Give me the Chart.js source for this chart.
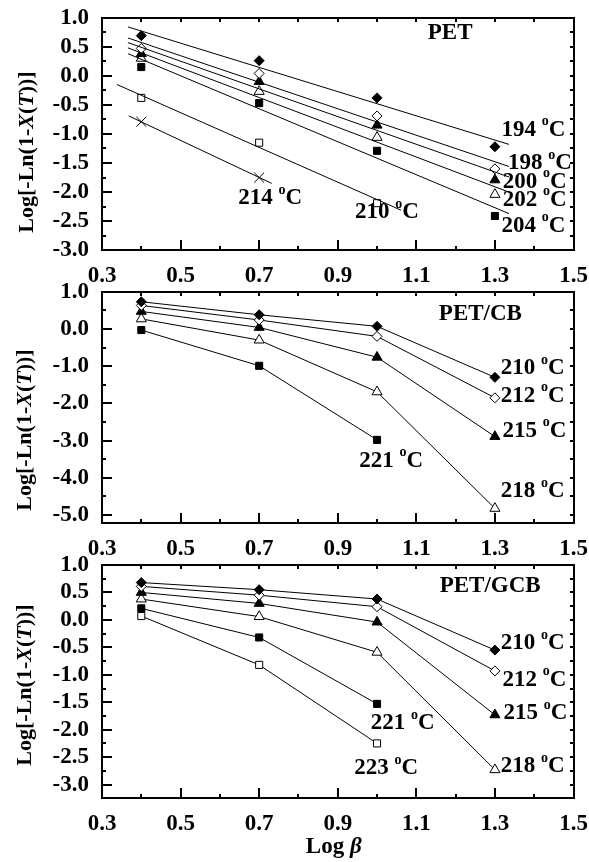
<!DOCTYPE html>
<html>
<head>
<meta charset="utf-8">
<script src="https://cdn.jsdelivr.net/npm/chart.js@4.4.1/dist/chart.umd.min.js"></script>
<style>
html, body { margin: 0; padding: 0; background: #fff; }
#wrap { position: relative; width: 589px; height: 862px; overflow: hidden; }
canvas { position: absolute; left: 0; }
.frame { position: absolute; left: 0; top: 0; width: 589px; height: 862px; pointer-events: none; z-index: 5; }
.frame div { position: absolute; background: #000; }
</style>
</head>
<body>
<div id="wrap">
  <canvas id="c1" width="589" height="292" style="top:0px"></canvas>
  <canvas id="c2" width="589" height="290" style="top:270px"></canvas>
  <canvas id="c3" width="589" height="322" style="top:540px"></canvas>
</div>
<script>
// Log(beta) values
const xBeta = [0.4, 0.7, 1.0, 1.3];

// --- PET ---
const pet194 = [0.69, 0.26, -0.38, -1.22];
const pet198 = [0.47, 0.04, -0.69, -1.60];
const pet200 = [0.38, -0.10, -0.85, -1.79];
const pet202 = [0.30, -0.27, -1.06, -2.04];
const pet204 = [0.15, -0.47, -1.29, -2.41];
const pet210 = [-0.38, -1.15, -2.19];
const pet214 = [-0.79, -1.75];
// fitted straight lines: 194,198,200,202,204,210,214
const petFitX0 = [0.366, 0.366, 0.366, 0.366, 0.366, 0.338, 0.368];
const petFitX1 = [1.336, 1.336, 1.336, 1.336, 1.336, 1.061, 0.732];
const petFitY0 = [0.84, 0.65, 0.57, 0.48, 0.38, -0.15, -0.69];
const petFitY1 = [-1.18, -1.56, -1.74, -2.00, -2.37, -2.31, -1.85];
const petLabels = ['194', '198', '200', '202', '204', '210', '214'];
const petLabelX = [1.317, 1.333, 1.32, 1.32, 1.317, 0.944, 0.647];
const petLabelY = [-0.93, -1.50, -1.82, -2.13, -2.58, -2.34, -2.11];

// --- PET/CB ---
const cb210 = [0.73, 0.38, 0.07, -1.30];
const cb212 = [0.63, 0.24, -0.20, -1.85];
const cb215 = [0.47, 0.04, -0.76, -2.89];
const cb218 = [0.27, -0.30, -1.69, -4.82];
const cb221 = [-0.03, -0.99, -2.98];
const cbLabels = ['210', '212', '215', '221', '218'];
const cbLabelX = [1.315, 1.315, 1.319, 0.955, 1.315];
const cbLabelY = [-1.05, -1.79, -2.73, -3.54, -4.35];

// --- PET/GCB ---
const gcb210 = [0.68, 0.55, 0.38, -0.55];
const gcb212 = [0.61, 0.45, 0.24, -0.93];
const gcb215 = [0.50, 0.30, -0.04, -1.73];
const gcb218 = [0.38, 0.06, -0.59, -2.73];
const gcb221 = [0.21, -0.32, -1.53];
const gcb223 = [0.07, -0.82, -2.25];
const gcbLabels = ['210', '212', '215', '221', '223', '218'];
const gcbLabelX = [1.315, 1.319, 1.322, 0.984, 0.942, 1.315];
const gcbLabelY = [-0.42, -1.09, -1.70, -1.88, -2.70, -2.67];

// tick values
const xTicks = [0.3, 0.5, 0.7, 0.9, 1.1, 1.3, 1.5];
const xMinor = [0.4, 0.6, 0.8, 1.0, 1.2, 1.4];
const yTicksA = [1.0, 0.5, 0.0, -0.5, -1.0, -1.5, -2.0, -2.5, -3.0];
const yMinorA = [0.75, 0.25, -0.25, -0.75, -1.25, -1.75, -2.25, -2.75];
const yTicksB = [1, 0, -1, -2, -3, -4, -5];
const yMinorB = [0.5, -0.5, -1.5, -2.5, -3.5, -4.5];
const yMinorC = [0.75, 0.25, -0.25, -0.75, -1.25, -1.75, -2.25, -2.75, -3.25];

const FONT = '"Liberation Serif", "Times New Roman", serif';

function pts(ys) {
    return ys.map((v, i) => ({ x: xBeta[i], y: v }));
}

function markers(ys, style, filled, radius, withLine) {
    return {
        data: pts(ys),
        showLine: withLine,
        borderColor: '#000',
        borderWidth: 1,
        pointStyle: style,
        pointRadius: radius,
        pointBorderWidth: 1,
        pointBackgroundColor: filled ? '#000' : '#fff',
        pointBorderColor: '#000',
        tension: 0
    };
}

function fitLine(i) {
    return {
        data: [{ x: petFitX0[i], y: petFitY0[i] }, { x: petFitX1[i], y: petFitY1[i] }],
        showLine: true,
        borderColor: '#000',
        borderWidth: 1,
        pointRadius: 0,
        tension: 0
    };
}

function drawTemp(ctx, num, px, py) {
    ctx.textAlign = 'left';
    ctx.textBaseline = 'middle';
    ctx.font = 'bold 23px ' + FONT;
    ctx.fillText(num + ' ', px, py);
    let w = ctx.measureText(num + ' ').width;
    ctx.font = 'bold 14px ' + FONT;
    ctx.fillText('o', px + w, py - 8);
    w += ctx.measureText('o').width;
    ctx.font = 'bold 23px ' + FONT;
    ctx.fillText('C', px + w, py);
}

function drawYTitle(ctx, cx, cy) {
    const parts = [['Log[-Ln(1-', false], ['X', true], ['(', false], ['T', true], ['))]', false]];
    const f = (it) => (it ? 'italic ' : '') + 'bold 22px ' + FONT;
    let total = 0;
    parts.forEach(p => { ctx.font = f(p[1]); total += ctx.measureText(p[0]).width; });
    ctx.save();
    ctx.translate(cx, cy);
    ctx.rotate(-Math.PI / 2);
    ctx.textAlign = 'left';
    ctx.textBaseline = 'middle';
    let x = -total / 2;
    parts.forEach(p => {
        ctx.font = f(p[1]);
        ctx.fillText(p[0], x, 0);
        x += ctx.measureText(p[0]).width;
    });
    ctx.restore();
}

// box and inward ticks as an overlay layer, positioned from the chart's scales
function frameOverlayPlugin(opt) {
    return {
        id: 'frameOverlay' + opt.n,
        afterRender(chart) {
            const host = document.getElementById('wrap');
            let layer = document.getElementById('frame' + opt.n);
            if (!layer) {
                layer = document.createElement('div');
                layer.id = 'frame' + opt.n;
                layer.className = 'frame';
                host.appendChild(layer);
            }
            layer.innerHTML = '';
            const top0 = chart.canvas.offsetTop;
            const a = chart.chartArea;
            const xs = chart.scales.x;
            const ys = chart.scales.y;
            const bar = (x, y, w, h) => {
                const d = document.createElement('div');
                d.style.left = x + 'px';
                d.style.top = (top0 + y) + 'px';
                d.style.width = w + 'px';
                d.style.height = h + 'px';
                layer.appendChild(d);
            };
            xTicks.forEach(v => {
                const p = Math.round(xs.getPixelForValue(v));
                bar(p - 1, a.bottom - 10, 2, 10);
                bar(p - 1, a.top, 2, 4);
            });
            xMinor.forEach(v => {
                const p = Math.round(xs.getPixelForValue(v));
                bar(p - 1, a.bottom - 4, 2, 4);
                bar(p - 1, a.top, 2, 4);
            });
            opt.yTicks.forEach(v => {
                const p = Math.round(ys.getPixelForValue(v));
                bar(a.left, p - 1, 10, 2);
                bar(a.right - 4, p - 1, 4, 2);
            });
            opt.yMinor.forEach(v => {
                const p = Math.round(ys.getPixelForValue(v));
                bar(a.left, p - 1, 4, 2);
                bar(a.right - 4, p - 1, 4, 2);
            });
            const l = Math.round(a.left) - 1, r = Math.round(a.right) - 1;
            const t = Math.round(a.top) - 1, b = Math.round(a.bottom) - 1;
            bar(l, t, r - l + 2, 2);
            bar(l, b, r - l + 2, 2);
            bar(l, t, 2, b - t + 2);
            bar(r, t, 2, b - t + 2);
        }
    };
}

// temperature labels, panel name and axis titles
function annotPlugin(opt) {
    return {
        id: 'annot' + opt.n,
        afterDraw(chart) {
            const ctx = chart.ctx;
            const a = chart.chartArea;
            const xs = chart.scales.x;
            const ys = chart.scales.y;
            ctx.save();
            ctx.fillStyle = '#000';
            opt.labels.forEach((lab, i) => {
                drawTemp(ctx, lab, xs.getPixelForValue(opt.labelX[i]), ys.getPixelForValue(opt.labelY[i]));
            });
            ctx.font = 'bold 23px ' + FONT;
            ctx.textAlign = 'center';
            ctx.textBaseline = 'middle';
            ctx.fillText(opt.name, xs.getPixelForValue(opt.nameX), ys.getPixelForValue(opt.nameY));

            drawYTitle(ctx, opt.titleX, opt.titleY);

            if (opt.xTitle) {
                const cx = (a.left + a.right) / 2 - 4;
                const cy = a.bottom + 48.5;
                ctx.textAlign = 'left';
                ctx.font = 'bold 23px ' + FONT;
                const w1 = ctx.measureText('Log ').width;
                ctx.font = 'italic bold 23px ' + FONT;
                const w2 = ctx.measureText('\u03b2').width;
                const x0 = cx - (w1 + w2) / 2;
                ctx.font = 'bold 23px ' + FONT;
                ctx.fillText('Log ', x0, cy);
                ctx.font = 'italic bold 23px ' + FONT;
                ctx.fillText('\u03b2', x0 + w1, cy);
            }
            ctx.restore();
        }
    };
}

function buildPanel(id, opt) {
    const tickFont = { family: FONT, size: 23, weight: 'bold' };
    return new Chart(document.getElementById(id), {
        type: 'scatter',
        data: { datasets: opt.datasets },
        options: {
            responsive: false,
            animation: false,
            layout: { padding: { top: opt.padTop, right: 15.5, left: 0, bottom: 0 } },
            plugins: { legend: { display: false }, tooltip: { enabled: false } },
            scales: {
                x: {
                    type: 'linear',
                    min: 0.3,
                    max: 1.5,
                    // tickLength only offsets the labels; tick marks come from the overlay
                    grid: { display: false, drawTicks: true, tickLength: 12 },
                    border: { display: false },
                    afterBuildTicks: s => { s.ticks = xTicks.map(v => ({ value: v })); },
                    afterFit: s => { s.height = opt.xHeight; },
                    ticks: {
                        padding: 0,
                        color: '#000',
                        font: tickFont,
                        autoSkip: false,
                        maxRotation: 0,
                        callback: v => Number(v).toFixed(1)
                    }
                },
                y: {
                    type: 'linear',
                    min: opt.yMin,
                    max: opt.yMax,
                    grid: { display: false, drawTicks: true, tickLength: 13 },
                    border: { display: false },
                    afterBuildTicks: s => { s.ticks = opt.yTicks.map(v => ({ value: v })); },
                    afterFit: s => { s.width = 102; },
                    ticks: {
                        padding: 0,
                        color: '#000',
                        font: tickFont,
                        autoSkip: false,
                        callback: v => Number(v).toFixed(1)
                    }
                }
            }
        },
        plugins: [annotPlugin(opt), frameOverlayPlugin(opt)]
    });
}

// PET panel: fitted lines + markers
const petSets = [];
for (let i = 0; i < petFitX0.length; i++) petSets.push(fitLine(i));
petSets.push(markers(pet194, 'rectRot', true, 5, false));
petSets.push(markers(pet198, 'rectRot', false, 5, false));
petSets.push(markers(pet200, 'triangle', true, 5.8, false));
petSets.push(markers(pet202, 'triangle', false, 5.8, false));
petSets.push(markers(pet204, 'rect', true, 5, false));
petSets.push(markers(pet210, 'rect', false, 5, false));
petSets.push(markers(pet214, 'crossRot', false, 7, false));

buildPanel('c1', {
    n: 1,
    datasets: petSets,
    padTop: 17.6, xHeight: 41.7,
    yMin: -3, yMax: 1, yTicks: yTicksA, yMinor: yMinorA,
    labels: petLabels, labelX: petLabelX, labelY: petLabelY,
    name: 'PET', nameX: 1.186, nameY: 0.73,
    titleX: 27, titleY: 152
});

buildPanel('c2', {
    n: 2,
    datasets: [
        markers(cb210, 'rectRot', true, 5, true),
        markers(cb212, 'rectRot', false, 5, true),
        markers(cb215, 'triangle', true, 5.8, true),
        markers(cb218, 'triangle', false, 5.8, true),
        markers(cb221, 'rect', true, 5, true)
    ],
    padTop: 21.7, xHeight: 36.7,
    yMin: -5.22, yMax: 1, yTicks: yTicksB, yMinor: yMinorB,
    labels: cbLabels, labelX: cbLabelX, labelY: cbLabelY,
    name: 'PET/CB', nameX: 1.263, nameY: 0.41,
    titleX: 25, titleY: 160
});

buildPanel('c3', {
    n: 3,
    datasets: [
        markers(gcb210, 'rectRot', true, 5, true),
        markers(gcb212, 'rectRot', false, 5, true),
        markers(gcb215, 'triangle', true, 5.8, true),
        markers(gcb218, 'triangle', false, 5.8, true),
        markers(gcb221, 'rect', true, 5, true),
        markers(gcb223, 'rect', false, 5, true)
    ],
    padTop: 25, xHeight: 63.7,
    yMin: -3.25, yMax: 1, yTicks: yTicksA, yMinor: yMinorC,
    labels: gcbLabels, labelX: gcbLabelX, labelY: gcbLabelY,
    name: 'PET/GCB', nameX: 1.288, nameY: 0.62,
    titleX: 25, titleY: 145,
    xTitle: true
});
</script>
</body>
</html>
